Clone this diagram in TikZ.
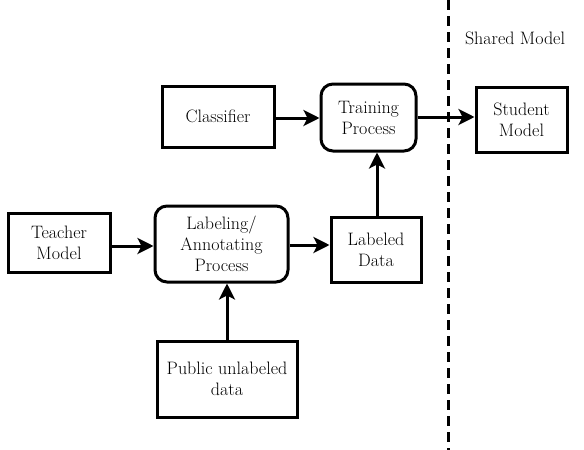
\documentclass[tikz,border=0pt]{standalone}
\usetikzlibrary{arrows.meta}
\begin{document}
\begin{tikzpicture}[x=1pt,y=-1pt,
  box/.style={draw, line width=3pt, inner sep=0pt, align=center,
    font=\fontsize{18}{21}\selectfont},
  rbox/.style={box, rounded corners=12pt},
  arr/.style={line width=3pt, -{Stealth[length=16pt,width=16pt,inset=4pt]}}]
\useasboundingbox (0,0) rectangle (584,450);
\node[box, minimum width=102pt, minimum height=59pt] (teacher) at (59,242.5) {Teacher\\Model};
\node[rbox, minimum width=133pt, minimum height=76pt] (label) at (221.5,244) {Labeling/\\Annotating\\Process};
\node[box, minimum width=90pt, minimum height=65pt] (ldata) at (376,249.5) {Labeled\\Data};
\node[box, minimum width=112pt, minimum height=61pt] (clf) at (218,116.5) {Classifier};
\node[rbox, minimum width=95pt, minimum height=67pt] (train) at (368.5,117.5) {Training\\Process};
\node[box, minimum width=91pt, minimum height=65pt] (student) at (521.5,119.5) {Student\\Model};
\node[box, minimum width=140pt, minimum height=76pt] (public) at (227,379) {Public unlabeled\\data};
\node[font=\fontsize{18}{21}\selectfont] (shared) at (515,38) {Shared Model};
\coordinate (dtop) at (448,0);
\coordinate (dbot) at (448,450);
\draw[line width=3pt, dash pattern=on 10pt off 6pt] (dtop) -- (dbot);
\draw[arr] (teacher.east |- 0,246) -- (label.west |- 0,246);
\draw[arr] (label.east |- 0,245) -- (ldata.west |- 0,245);
\draw[arr] (public.north) -- (label.south -| public.north);
\draw[arr] (ldata.north -| 377,0) -- (train.south -| 377,0);
\draw[arr] (clf.east |- 0,118) -- (train.west |- 0,118);
\draw[arr] (train.east |- 0,117) -- (student.west |- 0,117);
\end{tikzpicture}
\end{document}
